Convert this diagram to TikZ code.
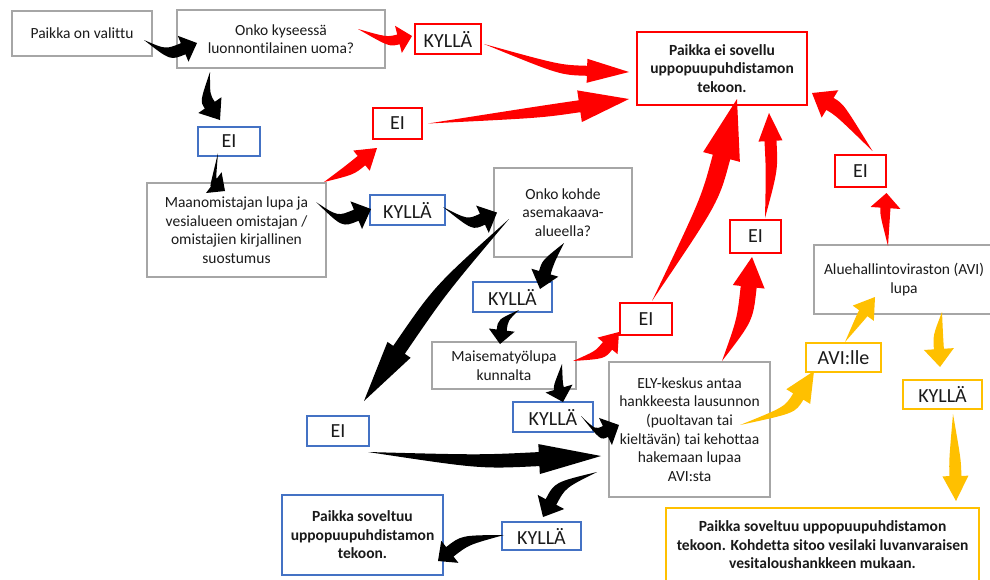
\documentclass[tikz,border=0pt]{standalone}
\usepackage{fontspec}
\setmainfont{Carlito}[Ligatures=NoCommon]
\usetikzlibrary{calc}
\definecolor{fgray}{HTML}{A6A6A6}
\definecolor{fblue}{HTML}{4472C4}
\definecolor{fred}{HTML}{FF0000}
\definecolor{fyellow}{HTML}{FFC000}
\definecolor{ftext}{HTML}{1A1A1A}
\tikzset{
  gbox/.style={draw=fgray, line width=2pt, fill=white, align=center, inner sep=2pt,
               text=ftext, font=\fontsize{15.5}{18.6}\selectfont},
  bbox/.style={draw=fblue, line width=2pt, fill=white, align=center, inner sep=2pt,
               text=ftext, font=\fontsize{15.5}{18.6}\selectfont\bfseries},
  rbox/.style={draw=fred, line width=2pt, fill=white, align=center, inner sep=2pt,
               text=ftext, font=\fontsize{15.5}{18.6}\selectfont\bfseries},
  ybox/.style={draw=fyellow, line width=2pt, fill=white, align=center, inner sep=2pt,
               text=ftext, font=\fontsize{15.5}{18.6}\selectfont\bfseries},
  blab/.style={bbox, font=\fontsize{20}{22}\selectfont},
  rlab/.style={rbox, font=\fontsize{20}{22}\selectfont},
  ylab/.style={ybox, font=\fontsize{20}{22}\selectfont},
  sz/.style 2 args={minimum width=#1pt, minimum height=#2pt},
}
% colour, head length, head half width, shaft half width, from, bend, tip
\newcommand{\flowarr}[7]{%
  \path #5 coordinate (fa-s) #6 coordinate (fa-c) #7 coordinate (fa-t);
  \path ($(fa-t)!#2pt!(fa-c)$) coordinate (fa-h);
  \fill[#1] (fa-s) .. controls ($(fa-c)!#4pt!90:(fa-t)$) .. ($(fa-h)!#4pt!90:(fa-t)$)
    -- ($(fa-h)!#3pt!90:(fa-t)$) -- (fa-t) -- ($(fa-h)!#3pt!-90:(fa-t)$)
    -- ($(fa-h)!#4pt!-90:(fa-t)$) .. controls ($(fa-c)!#4pt!-90:(fa-t)$) .. (fa-s) -- cycle;
}

\begin{document}
\begin{tikzpicture}[x=1pt, y=-1pt]
  \fill[white] (0,0) rectangle (990,579);
  \useasboundingbox (0,0) rectangle (990,579);

  \node[gbox, sz={140}{45}] (valittu) at (82,33.5) {Paikka on valittu};
  \node[gbox, sz={208}{58}] (uoma) at (281,39) {Onko kyseessä\\luonnontilainen uoma?};
  \node[rlab, sz={66}{30}] (kyllaA) at (448,39) {KYLLÄ};
  \node[rbox, sz={170}{73}] (eisov) at (722,68.5) {Paikka ei sovellu\\uppopuupuhdistamon\\tekoon.};
  \node[blab, sz={62}{29}] (eiA) at (229,141.5) {EI};
  \node[rlab, sz={49}{31}] (eiB) at (397.5,123.5) {EI};
  \node[gbox, sz={179}{94}] (lupa) at (236.5,230) {Maanomistajan lupa ja\\vesialueen omistajan /\\omistajien kirjallinen\\suostumus};
  \node[blab, sz={75}{30}] (kyllaB) at (407.5,210) {KYLLÄ};
  \node[gbox, sz={138}{89}] (kohde) at (563,212.5) {Onko kohde\\asemakaava-\\alueella?};
  \node[rlab, sz={51}{33}] (eiC) at (755.5,236.5) {EI};
  \node[rlab, sz={51}{32}] (eiD) at (860.5,171) {EI};
  \node[gbox, sz={180}{69}] (avi) at (904,279.5) {Aluehallintoviraston (AVI)\\lupa};
  \node[blab, sz={79}{30}] (kyllaC) at (512.5,297) {KYLLÄ};
  \node[gbox, sz={144}{47}] (maisema) at (504,365.5) {Maisematyölupa\\kunnalta};
  \node[rlab, sz={52}{32}] (eiE) at (646,319) {EI};
  \node[blab, sz={62}{30}] (eiF) at (338,431) {EI};
  \node[blab, sz={80}{30}] (kyllaD) at (553,417) {KYLLÄ};
  \node[gbox, sz={161}{135}] (ely) at (689.5,429.5) {ELY-keskus antaa\\hankkeesta lausunnon\\(puoltavan tai\\kieltävän) tai kehottaa\\hakemaan lupaa\\AVI:sta};
  \node[ylab, sz={75}{29}] (avile) at (843.5,357.5) {AVI:lle};
  \node[ylab, sz={79}{29}] (kyllaE) at (942.5,394.5) {KYLLÄ};
  \node[blab, sz={79}{28}] (kyllaF) at (541.5,536) {KYLLÄ};
  \node[bbox, sz={161}{80}] (soveltuu) at (362.5,535) {Paikka soveltuu\\uppopuupuhdistamon\\tekoon.};
  \node[ybox, sz={313}{74}] (final) at (822.5,545) {Paikka soveltuu uppopuupuhdistamon\\tekoon. Kohdetta sitoo vesilaki luvanvaraisen\\vesitaloushankkeen mukaan.};

  % black
  \flowarr{black}{15}{14}{6}{($(valittu.east)+(-9,6.5)$)}{(168,55)}{($(uoma.west)+(21,4)$)}
  \flowarr{black}{18}{14}{6}{($(uoma.south west)+(34,3)$)}{(205,98)}{($(eiA.north)+(-9,-6)$)}
  \flowarr{black}{14}{13}{5}{($(eiA.south)+(-11,-4)$)}{(213,182)}{($(lupa.north)+(-11.5,9)$)}
  \flowarr{black}{16}{15}{6}{($(lupa.north east)+(-11,20)$)}{(340,222)}{($(kyllaB.west)+(2,-1)$)}
  \flowarr{black}{16}{15}{6}{($(kyllaB.east)+(-3,-3)$)}{(470,225)}{($(kohde.west)+(4,0)$)}
  \flowarr{black}{62}{14}{7}{($(kohde.west)+(16,6.5)$)}{(440,290)}{($(eiF.north east)+(-6,-14)$)}
  \flowarr{black}{17}{14}{6}{($(kohde.south)+(1,-15)$)}{(548,262)}{($(kyllaC.north)+(27.5,8)$)}
  \flowarr{black}{14}{13}{5}{($(kyllaC.south)+(6.5,-3)$)}{(503,320)}{($(maisema.north)+(-4,3)$)}
  \flowarr{black}{14}{14}{5}{($(maisema.south east)+(-15,-26)$)}{(558,385)}{($(kyllaD.north)+(10,1)$)}
  \flowarr{black}{15}{15}{6}{($(kyllaD.east)+(-13,-1)$)}{(598,435)}{($(ely.west)+(11,-4.5)$)}
  \flowarr{black}{62}{15}{7}{($(eiF.south east)+(-2,5)$)}{(480,462)}{($(ely.west)+(-7,26.5)$)}
  \flowarr{black}{17}{15}{6}{($(ely.south west)+(-11,-26)$)}{(560,485)}{($(kyllaF.north)+(1.5,-4)$)}
  \flowarr{black}{15}{14}{6}{($(kyllaF.west)+(3,-1)$)}{(465,540)}{($(soveltuu.east)+(-6,26)$)}
  % red
  \flowarr{fred}{14}{14}{5}{($(uoma.north east)+(-28,20)$)}{(388,42)}{($(kyllaA.west)+(-2,-3)$)}
  \flowarr{fred}{42}{12}{5}{($(kyllaA.east)+(2,5)$)}{(560,70)}{($(eisov.west)+(-7,3.5)$)}
  \flowarr{fred}{50}{16}{6}{($(eiB.east)+(5,0)$)}{(540,112)}{($(eisov.south west)+(-7,-7)$)}
  \flowarr{fred}{20}{13}{6}{($(lupa.north east)+(-3,0)$)}{(350,170)}{($(eiB.south west)+(5,8)$)}
  \flowarr{fred}{18}{13}{6}{($(maisema.north east)+(-4,20)$)}{(600,355)}{($(eiE.west)+(0,13)$)}
  \flowarr{fred}{60}{19}{9}{($(eiE.north)+(6,-1)$)}{(710,200)}{($(eisov.south)+(15,-7)$)}
  \flowarr{fred}{30}{16}{8}{($(ely.north east)+(-49,0)$)}{(745,320)}{($(eiC.south)+(-3.5,3)$)}
  \flowarr{fred}{28}{12}{6}{($(eiC.north)+(9.5,-1)$)}{(772,170)}{($(eisov.south east)+(-39,7)$)}
  \flowarr{fred}{15}{15}{5}{($(avi.north)+(-16,2)$)}{(885,215)}{($(eiD.south)+(26,5)$)}
  \flowarr{fred}{21}{16}{7}{($(eiD.north)+(12,-3)$)}{(840,110)}{($(eisov.east)+(4,24.5)$)}
  % yellow
  \flowarr{fyellow}{30}{14}{6}{($(ely.east)+(-31,-4.5)$)}{(790,410)}{($(avile.south west)+(9,-2)$)}
  \flowarr{fyellow}{20}{13}{5}{($(avile.north)+(1.5,0)$)}{(862,315)}{($(avi.south west)+(62,-18)$)}
  \flowarr{fyellow}{18}{15}{5}{($(avi.south)+(38,-3)$)}{(938,335)}{($(kyllaE.north)+(-2.5,-12)$)}
  \flowarr{fyellow}{25}{13}{6}{($(kyllaE.south)+(10.5,4)$)}{(955,460)}{($(final.north east)+(-24,-6)$)}
\end{tikzpicture}
\end{document}
